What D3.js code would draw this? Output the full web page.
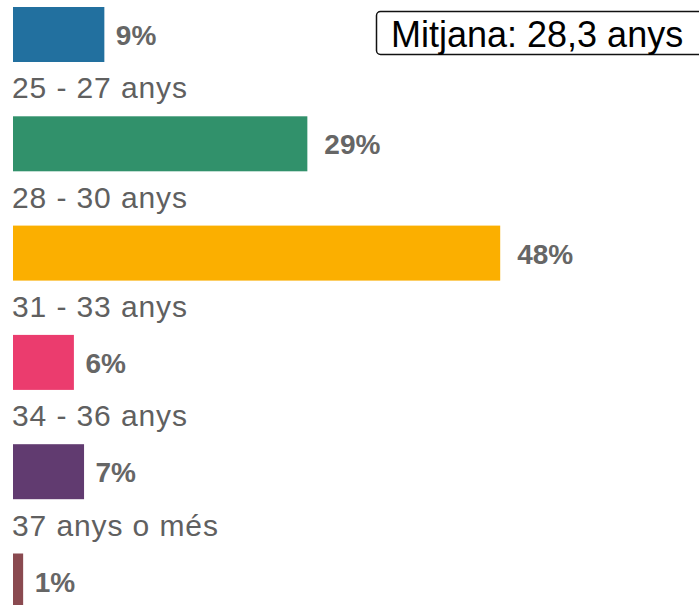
<!DOCTYPE html>
<html>
<head>
<meta charset="utf-8">
<script src="https://cdn.jsdelivr.net/npm/d3@7"></script>
<style>
  html, body { margin: 0; padding: 0; background: #fff; overflow: hidden; }
  svg { display: block; }
</style>
</head>
<body>
<svg id="chart" width="699" height="605"></svg>
<script>
// Data (top category label is cropped out of the reference)
const categories = ["", "25 - 27 anys", "28 - 30 anys", "31 - 33 anys", "34 - 36 anys", "37 anys o més"];
const values = [9, 29, 48, 6, 7, 1];
const colors = ["#22709f", "#31916b", "#fbaf00", "#eb3c6e", "#613b70", "#8a4a50"];
const meanLabel = "Mitjana: 28,3 anys";

const svg = d3.select("#chart");

const step = 109.3;
const y = d3.scaleBand()
  .domain(categories)
  .range([-43, -43 + step * categories.length])
  .paddingInner(0).paddingOuter(0);

const x = d3.scaleLinear().domain([0, 100]).range([13, 13 + 1015]);

const rows = svg.selectAll("g.row")
  .data(categories.map((c, i) => ({ cat: c, v: values[i], color: colors[i] })))
  .join("g")
  .attr("class", "row")
  .attr("transform", d => `translate(0,${y(d.cat)})`);

rows.append("text")
  .attr("x", 12)
  .attr("y", 32)
  .attr("fill", "#606060")
  .style("font-family", "'Liberation Sans', Arial, sans-serif")
  .style("font-size", "30px")
  .style("letter-spacing", "0.9px")
  .text(d => d.cat);

rows.append("rect")
  .attr("x", x(0))
  .attr("y", 50)
  .attr("width", d => x(d.v) - x(0))
  .attr("height", 55)
  .attr("fill", d => d.color);

rows.append("text")
  .attr("x", d => x(d.v) + 6 + 5.5 * String(d.v).length)
  .attr("y", 50 + 27.5 + 10.5)
  .attr("fill", "#666666")
  .style("font-family", "'Liberation Sans', Arial, sans-serif")
  .style("font-size", "28px")
  .style("font-weight", "bold")
  .text(d => d.v + "%");

// Mean annotation box
svg.append("rect")
  .attr("x", 376.5)
  .attr("y", 11.5)
  .attr("width", 360)
  .attr("height", 43)
  .attr("rx", 4)
  .attr("fill", "#fff")
  .attr("stroke", "#111")
  .attr("stroke-width", 1.5);

svg.append("text")
  .attr("x", 391)
  .attr("y", 47)
  .attr("fill", "#000")
  .style("font-family", "'Liberation Sans', Arial, sans-serif")
  .style("font-size", "36px")
  .text(meanLabel);
</script>
</body>
</html>
